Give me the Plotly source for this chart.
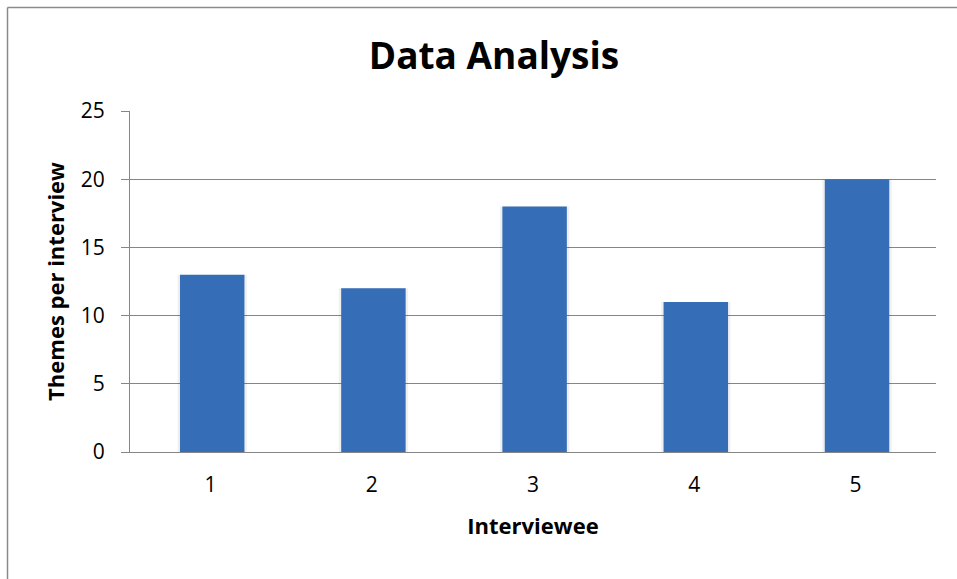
import plotly.graph_objects as go

categories = ["1", "2", "3", "4", "5"]
themes = [13, 12, 18, 11, 20]
y_ticks = [0, 5, 10, 15, 20, 25]

W, H = 957, 579
L, R, T, B = 130, 21, 111, 127
FONT = "Open Sans"

fig = go.Figure()
# soft shadow behind bars
fig.add_trace(go.Bar(
    x=categories, y=themes, width=0.43, offset=-0.205,
    marker=dict(color="rgba(0,0,0,0.06)", line=dict(width=0)),
    hoverinfo="skip", showlegend=False,
))
fig.add_trace(go.Bar(
    x=categories, y=themes, width=0.40, offset=-0.19,
    marker=dict(color="#356eb6", line=dict(width=0)),
    showlegend=False,
))

def px_x(p):
    return (p - L) / (W - L - R)

def px_y(p):
    return 1 - (p - T) / (H - T - B)

fig.update_layout(
    width=W, height=H,
    margin=dict(l=L, r=R, t=T, b=B),
    paper_bgcolor="white", plot_bgcolor="white",
    barmode="overlay",
    font=dict(family=FONT, color="black"),
    title=dict(text="<b>Data Analysis</b>", x=494 / W, xref="container",
               y=1 - 56 / H, yref="container", xanchor="center", yanchor="middle",
               font=dict(size=37, family=FONT, color="black")),
    xaxis=dict(
        type="category", showline=True, linecolor="#868686", linewidth=1,
        ticks="", tickfont=dict(size=21, color="black"), showgrid=False,
        ticklabelstandoff=14,
        title=dict(text="<b>Interviewee</b>", font=dict(size=22, color="black"), standoff=21),
    ),
    yaxis=dict(
        range=[0, 25], tickvals=y_ticks, showline=True, linecolor="#868686", linewidth=1,
        ticks="outside", ticklen=8, tickcolor="#868686",
        tickfont=dict(size=21, color="black"), ticklabelstandoff=12,
        showgrid=True, gridcolor="#868686", gridwidth=1, zeroline=False,
        title=dict(text="<b>Themes per interview</b>", font=dict(size=22, color="black"), standoff=10),
    ),
    shapes=[
        dict(type="line", xref="paper", yref="paper", x0=px_x(7.5), x1=px_x(7.5),
             y0=px_y(7.5), y1=px_y(H + 5), line=dict(color="#8a8a8a", width=1.5)),
        dict(type="line", xref="paper", yref="paper", x0=px_x(7.5), x1=px_x(W + 5),
             y0=px_y(7.5), y1=px_y(7.5), line=dict(color="#8a8a8a", width=1.5)),
    ],
)

fig.write_html("out.html")
